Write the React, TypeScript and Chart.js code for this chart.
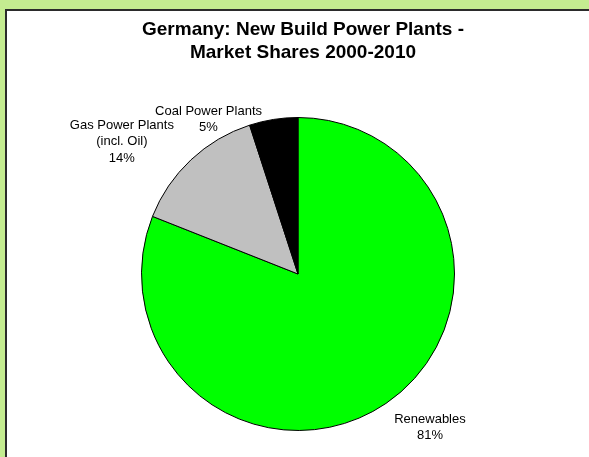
import React, { useEffect, useRef } from "react";
import { Chart, registerables } from "chart.js";

Chart.register(...registerables);

const categories: string[][] = [["Renewables"], ["Gas Power Plants", "(incl. Oil)"], ["Coal Power Plants"]];
const shares: number[] = [81, 14, 5];
const titleLines: string[] = ["Germany: New Build Power Plants -", "Market Shares 2000-2010"];

const sliceColors = ["#00ff00", "#c0c0c0", "#000000"];
// offsets of label block centre from the slice's outer mid-point (style only)
const labelOffsets = [
  { dx: 44, dy: 24 },
  { dx: -69, dy: -18 },
  { dx: -65, dy: 0 },
];

const labelPlugin = {
  id: "excelLabels",
  afterDraw(chart: any) {
    const ctx = chart.ctx as CanvasRenderingContext2D;
    ctx.save();
    // title
    ctx.fillStyle = "#000";
    ctx.textAlign = "center";
    ctx.textBaseline = "middle";
    ctx.font = "bold 19px 'Liberation Sans', Arial, sans-serif";
    titleLines.forEach((t, i) => ctx.fillText(t, 303, 30 + i * 22.5));

    // data labels
    ctx.font = "13px 'Liberation Sans', Arial, sans-serif";
    const meta = chart.getDatasetMeta(0);
    const lh = 16.5;
    meta.data.forEach((arc: any, i: number) => {
      const p = arc.getProps(["x", "y", "startAngle", "endAngle", "outerRadius"], true);
      const mid = (p.startAngle + p.endAngle) / 2;
      const px = p.x + p.outerRadius * Math.cos(mid);
      const py = p.y + p.outerRadius * Math.sin(mid);
      const lines = [...categories[i], `${shares[i]}%`];
      const cx = px + labelOffsets[i].dx;
      const cy = py + labelOffsets[i].dy;
      const top = cy - ((lines.length - 1) * lh) / 2;
      lines.forEach((l, j) => ctx.fillText(l, cx, top + j * lh));
    });
    ctx.restore();
  },
};

export default function App() {
  const ref = useRef<HTMLCanvasElement>(null);
  useEffect(() => {
    if (!ref.current) return;
    const chart = new Chart(ref.current, {
      type: "pie",
      data: {
        labels: categories.map((c) => c.join(" ")),
        datasets: [
          {
            data: shares,
            backgroundColor: sliceColors,
            borderColor: "#000000",
            borderWidth: 1,
          },
        ],
      },
      options: {
        responsive: false,
        animation: false,
        events: [],
        layout: { padding: { left: 141, right: 134, top: 117, bottom: 26 } },
        plugins: {
          legend: { display: false },
          tooltip: { enabled: false },
          title: { display: false },
        },
      },
      plugins: [labelPlugin],
    });
    return () => chart.destroy();
  }, []);

  return (
    <div
      style={{
        position: "fixed",
        left: 0,
        top: 0,
        width: 589,
        height: 457,
        background: "#c4ec90",
        overflow: "hidden",
      }}
    >
      <div
        style={{
          position: "absolute",
          left: 5,
          top: 9,
          width: 620,
          height: 520,
          background: "#ffffff",
          borderLeft: "2px solid #2b2b2b",
          borderTop: "2px solid #2b2b2b",
        }}
      />
      <canvas
        ref={ref}
        width={589}
        height={457}
        style={{ position: "absolute", left: 0, top: 0, width: 589, height: 457 }}
      />
    </div>
  );
}
